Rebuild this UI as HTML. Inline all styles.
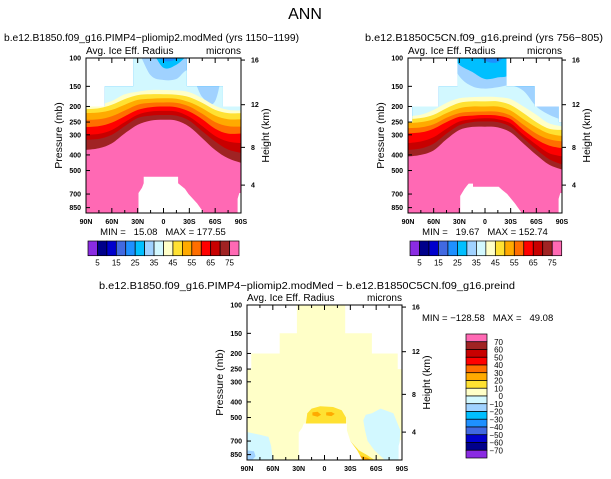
<!DOCTYPE html>
<html><head><meta charset="utf-8">
<style>
html,body{margin:0;padding:0;background:#fff;}
svg{display:block;font-family:"Liberation Sans",sans-serif;}
text{white-space:pre;}
</style></head>
<body>
<svg id="fig" xmlns="http://www.w3.org/2000/svg" width="611" height="479" viewBox="0 0 611 479">
<rect width="611" height="479" fill="#fff"/>
<text x="305" y="19" font-size="16" text-anchor="middle">ANN</text>
<text x="4" y="41" font-size="10.5" textLength="295" lengthAdjust="spacingAndGlyphs">b.e12.B1850.f09_g16.PIMP4−pliomip2.modMed (yrs 1150−1199)</text>
<text x="365" y="41" font-size="10.5" textLength="238" lengthAdjust="spacingAndGlyphs">b.e12.B1850C5CN.f09_g16.preind (yrs 756−805)</text>
<text x="99" y="289" font-size="10.5" textLength="416" lengthAdjust="spacingAndGlyphs">b.e12.B1850.f09_g16.PIMP4−pliomip2.modMed − b.e12.B1850C5CN.f09_g16.preind</text>
<text x="422" y="321" font-size="9.5">MIN = −128.58   MAX =   49.08</text>
</svg>
<script>
const LATS=[90,75,60,45,30,15,0,-15,-30,-45,-60,-75,-90];
const LEVELS=[25,30,35,40,45,50,55,60,65,70,75];
// panel 1 level boundaries (mb)
const P1_B25=[90,90,90,90,90,90,104,102,90,90,90,90,90];
const P1_B30=[90,90,90,90,90,90,115,110,95,90,90,90,90];
const P1_B35=[90,90,90,90,92,128,137,135,120,175,185,90,90];
const P1_B40=[200,195,185,168,162,158,158,159,163,178,198,210,212];
const P1_B45=[208,205,195,180,170,168,168,169,175,190,210,220,220];
const P1_B50=[220,218,210,195,182,179,178,179,188,205,228,240,240];
const P1_B55=[242,240,230,212,195,190,189,190,200,222,250,265,267];
const P1_B60=[269,265,252,230,210,202,200,202,215,240,275,295,294];
const P1_B65=[301,296,280,250,225,215,213,215,232,265,305,330,339];
const P1_B70=[323,318,300,265,236,228,226,228,245,285,330,370,391];
const P1_B75=[373,364,339,294,260,245,242,245,267,315,373,420,452];
// panel 2 level boundaries (mb)
const P2_B25=[90,90,90,90,90,90,104,106,90,90,90,90,90];
const P2_B30=[90,90,90,90,110,122,135,132,125,90,90,90,215];
const P2_B35=[90,90,90,92,130,150,155,152,148,160,200,225,245];
const P2_B40=[230,225,210,190,178,175,174,175,180,200,225,255,267];
const P2_B45=[240,236,225,205,190,186,186,186,196,220,250,275,280];
const P2_B50=[254,250,240,220,205,200,200,200,212,240,270,295,306];
const P2_B55=[273,270,258,235,220,216,215,216,228,260,295,320,331];
const P2_B60=[294,290,275,250,232,228,226,228,240,280,320,350,365];
const P2_B65=[339,330,310,275,248,240,237,240,255,300,345,390,410];
const P2_B70=[373,365,340,295,262,250,248,250,268,315,370,425,463];
const P2_B75=[410,400,375,320,280,268,267,270,290,340,400,460,497];
// data-region masks
const P1_MASK_LAT=[90,68,35,-27,-69,-90], P1_MASK_TOP=[200,150,100,150,200];
const P2_MASK_LAT=[90,85,54,32,-25,-58,-86,-90], P2_MASK_TOP=[250,200,150,100,150,200,250];
const P3_MASK_LAT=[90,85,52,32,-24,-55,-85,-90], P3_MASK_TOP=[250,200,150,100,150,200,250];
// missing (topography) regions
const P1_HOLE_LAT=[23,-17,-17,-25,-29,-39,-47,29,29,25,23], P1_HOLE_P=[547,547,600,650,700,800,918,918,690,640,600];
const P2_HOLE_LAT=[19,14,14,-16,-20,-26,-35,-43,29,29,24,21], P2_HOLE_P=[603,603,630,630,660,700,800,918,918,720,650,620];
const P3_HOLE_LAT=[24,-26,-26,-30,-38,-44,30,30,26], P3_HOLE_P=[545,545,600,700,800,918,918,620,580];
const SLIVER_LAT=[-86,-86,-88,-90,-90], SLIVER_P=[918,750,690,690,918];
// difference patches
const D_CYAN_L_LAT=[90,75,65,62,60,90], D_CYAN_L_P=[615,640,660,750,918,918];
const D_SKY_L_LAT=[90,82,80,84,90], D_SKY_L_P=[800,810,870,918,918];
const D_CYAN_R_LAT=[-55,-48,-45,-47,-50,-58,-70,-86,-88,-80,-65], D_CYAN_R_P=[470,480,520,600,700,800,918,918,600,470,440];
const D_GOLD_C_LAT=[22,20,15,5,-10,-20,-25,-25], D_GOLD_C_P=[560,470,440,425,430,450,500,560];
const D_ORNG_C_LAT=[14,8,4,8,14], D_ORNG_C_P=[465,460,480,495,485];
const D_ORNG_C2_LAT=[-2,-8,-12,-8,-2], D_ORNG_C2_P=[465,462,475,490,485];
const D_GOLD_B_LAT=[-22,-30,-40,-50,-58,-43,-34], D_GOLD_B_P=[640,700,800,860,918,918,820];
const D_ORNG_B_LAT=[-38,-50,-54,-45], D_ORNG_B_P=[850,890,918,918];
const COLORS=['#8a2be2','#00008b','#0000cd','#4169e1','#1e90ff','#00bfff','#a0d2ff','#d2f8ff','#ffffc8','#ffe132','#ffaa00','#ff6e00','#ff0000','#c80000','#a02323','#ff69b4'];
const CB1_LABELS=['5','15','25','35','45','55','65','75'];
const CB3_LABELS=['70','60','50','40','30','20','10','0','−10','−20','−30','−40','−50','−60','−70'];
const P_TICKS=[100,150,200,250,300,400,500,700,850];
const KM_TICK_P=[103,195,359,616], KM_LABELS=['16','12','8','4'];
const LAT_TICKS=[90,60,30,0,-30,-60,-90], LAT_LABELS=['90N','60N','30N','0','30S','60S','90S'];

const NS='http://www.w3.org/2000/svg';
const svg=document.getElementById('fig');
function mk(tag,attrs,parent){const e=document.createElementNS(NS,tag);for(const k in attrs)e.setAttribute(k,attrs[k]);(parent||svg).appendChild(e);return e;}
function yP(pn,p){return pn.top+Math.log(p/100)/Math.log(9.18)*pn.h;}
function xL(pn,lat){return pn.left+(90-lat)/180*pn.w;}
function curve(pts){let d='M'+pts[0][0]+','+pts[0][1];for(let i=0;i<pts.length-1;i++){const p0=pts[Math.max(0,i-1)],p1=pts[i],p2=pts[i+1],p3=pts[Math.min(pts.length-1,i+2)];const c1x=p1[0]+(p2[0]-p0[0])/6,c1y=p1[1]+(p2[1]-p0[1])/6,c2x=p2[0]-(p3[0]-p1[0])/6,c2y=p2[1]-(p3[1]-p1[1])/6;d+=' C'+c1x.toFixed(1)+','+c1y.toFixed(1)+' '+c2x.toFixed(1)+','+c2y.toFixed(1)+' '+p2[0].toFixed(1)+','+p2[1].toFixed(1);}return d;}
function polyPts(pn,lats,ps){return lats.map((l,i)=>xL(pn,l).toFixed(1)+','+yP(pn,Math.min(ps[i],918)).toFixed(1)).join(' ');}

function panel(id,pn,bounds,maskLat,maskTop,holeLat,holeP,baseColor,patches){
  const g=mk('g',{});
  
  
  const defs=mk('defs',{},g);
  const cp=mk('clipPath',{id:id+'-clip'},defs);
  let mp=[];
  for(let i=0;i<maskTop.length;i++){mp.push([xL(pn,maskLat[i]),yP(pn,maskTop[i])]);mp.push([xL(pn,maskLat[i+1]),yP(pn,maskTop[i])]);}
  mp.push([pn.left+pn.w,pn.top+pn.h]);mp.push([pn.left,pn.top+pn.h]);
  mk('polygon',{points:mp.map(p=>p[0].toFixed(1)+','+p[1].toFixed(1)).join(' ')},cp);
  const fg=mk('g',{'clip-path':'url(#'+id+'-clip)'},g);
  const base=mk('rect',{x:pn.left,y:pn.top,width:pn.w,height:pn.h,fill:baseColor},fg);
  
  
  bounds.forEach((b,k)=>{
    const pts=LATS.map((l,i)=>[xL(pn,l),yP(pn,Math.max(b[i],85))]);
    pts[0][0]-=2;pts[pts.length-1][0]+=2;
    const d=curve(pts)+' L'+(pn.left+pn.w+2)+','+(pn.top+pn.h+2)+' L'+(pn.left-2)+','+(pn.top+pn.h+2)+' Z';
    const e=mk('path',{d:d,fill:COLORS[LEVELS[k]/5]},fg);
    
    
  });
  (patches||[]).forEach(pt=>{
    const e=mk('polygon',{points:polyPts(pn,pt[1],pt[2]),fill:COLORS[pt[0]]},fg);
    
    
  });
  const h=mk('polygon',{points:polyPts(pn,holeLat,holeP),fill:'#fff'},fg);
  
  
  const s=mk('polygon',{points:polyPts(pn,SLIVER_LAT,SLIVER_P),fill:'#fff'},fg);
  
  
  const fr=mk('rect',{x:pn.left,y:pn.top,width:pn.w,height:pn.h,fill:'none',stroke:'#000','stroke-width':1},g);
  
  
  P_TICKS.forEach(p=>{
    const y=yP(pn,p);
    mk('line',{x1:pn.left,x2:pn.left+4,y1:y,y2:y,stroke:'#000'},g);
    const t=mk('text',{x:pn.left-5,y:y+2.5,'font-size':7,'font-weight':'bold','text-anchor':'end'},g);
    t.textContent=String(p);
    
    
  });
  KM_TICK_P.forEach((p,i)=>{
    const y=yP(pn,p);
    mk('line',{x1:pn.left+pn.w,x2:pn.left+pn.w+4,y1:y,y2:y,stroke:'#000'},g);
    const t=mk('text',{x:pn.left+pn.w+10,y:y+2.5,'font-size':7,'font-weight':'bold'},g);
    t.textContent=KM_LABELS[i];
    
    
  });
  for(let l=90;l>=-90;l-=15){
    const x=xL(pn,l),maj=(l%30===0);
    mk('line',{x1:x,x2:x,y1:pn.top+pn.h,y2:pn.top+pn.h-(maj?5:3),stroke:'#000'},g);
    mk('line',{x1:x,x2:x,y1:pn.top,y2:pn.top+(maj?5:3),stroke:'#000'},g);
  }
  LAT_TICKS.forEach((l,i)=>{
    const t=mk('text',{x:xL(pn,l),y:pn.top+pn.h+11,'font-size':7,'font-weight':'bold','text-anchor':'middle'},g);
    t.textContent=LAT_LABELS[i];
    
    
  });
  const yl=mk('text',{x:0,y:0,'font-size':10.5,'text-anchor':'middle',transform:'translate('+(pn.left-24)+','+(pn.top+pn.h/2)+') rotate(-90)'},g);
  yl.textContent='Pressure (mb)';
  
  
  const yr=mk('text',{x:0,y:0,'font-size':10.5,'text-anchor':'middle',transform:'translate('+(pn.left+pn.w+28)+','+(pn.top+pn.h/2)+') rotate(-90)'},g);
  yr.textContent='Height (km)';
  
  
  const lt=mk('text',{x:pn.left,y:pn.top-4,'font-size':10},g);
  lt.textContent='Avg. Ice Eff. Radius';
  
  
  const rt=mk('text',{x:pn.left+pn.w,y:pn.top-4,'font-size':10,'text-anchor':'end'},g);
  rt.textContent='microns';
  
  
}

function hbar(id,x0,x1,y0,y1,minmax,cx){
  const g=mk('g',{});
  
  
  const w=(x1-x0)/COLORS.length;
  COLORS.forEach((c,i)=>{
    const r=mk('rect',{x:x0+i*w,y:y0,width:w,height:y1-y0,fill:c,stroke:'#000','stroke-width':0.7},g);
    
    
  });
  CB1_LABELS.forEach((s,i)=>{
    const t=mk('text',{x:x0+(1+2*i)*w,y:y1+10,'font-size':8,'text-anchor':'middle'},g);
    t.textContent=s;
    
    
  });
  const m=mk('text',{x:cx,y:235,'font-size':9.5,'text-anchor':'middle'},g);
  m.textContent=minmax;
  
  
}

const PN1={left:86,top:58,w:155,h:155};
const PN2={left:408,top:58,w:154,h:155};
const PN3={left:247,top:305,w:155,h:155};
panel('panel1',PN1,[P1_B25,P1_B30,P1_B35,P1_B40,P1_B45,P1_B50,P1_B55,P1_B60,P1_B65,P1_B70,P1_B75],P1_MASK_LAT,P1_MASK_TOP,P1_HOLE_LAT,P1_HOLE_P,COLORS[4]);
panel('panel2',PN2,[P2_B25,P2_B30,P2_B35,P2_B40,P2_B45,P2_B50,P2_B55,P2_B60,P2_B65,P2_B70,P2_B75],P2_MASK_LAT,P2_MASK_TOP,P2_HOLE_LAT,P2_HOLE_P,COLORS[4]);
panel('diff-panel',PN3,[],P3_MASK_LAT,P3_MASK_TOP,P3_HOLE_LAT,P3_HOLE_P,COLORS[8],[
  [7,D_CYAN_L_LAT,D_CYAN_L_P],[6,D_SKY_L_LAT,D_SKY_L_P],[7,D_CYAN_R_LAT,D_CYAN_R_P],
  [9,D_GOLD_C_LAT,D_GOLD_C_P],[10,D_ORNG_C_LAT,D_ORNG_C_P],[10,D_ORNG_C2_LAT,D_ORNG_C2_P],
  [9,D_GOLD_B_LAT,D_GOLD_B_P],[10,D_ORNG_B_LAT,D_ORNG_B_P]]);
hbar('panel1-colorbar',88,239,241,255.7,'MIN =   15.08   MAX = 177.55',163);
hbar('panel2-colorbar',410,561.7,241,255.7,'MIN =   19.67   MAX = 152.74',485);
(function(){
  const g=mk('g',{});
  
  
  const y0=334,y1=458,h=(y1-y0)/COLORS.length;
  for(let i=0;i<COLORS.length;i++){
    const r=mk('rect',{x:466,y:y0+i*h,width:21,height:h,fill:COLORS[COLORS.length-1-i],stroke:'#000','stroke-width':0.7},g);
    
    
  }
  CB3_LABELS.forEach((s,i)=>{
    const t=mk('text',{x:503,y:y0+(i+1)*h+3,'font-size':8,'text-anchor':'end'},g);
    t.textContent=s;
    
    
  });
})();
</script>
</body></html>
